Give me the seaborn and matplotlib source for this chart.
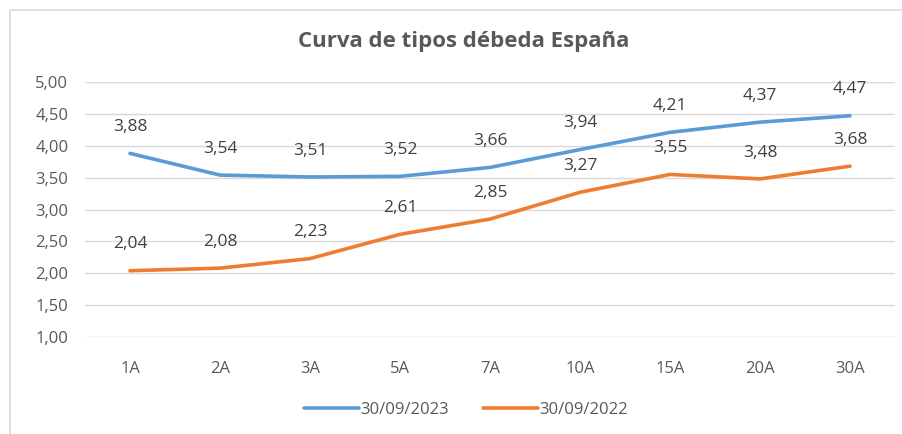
import seaborn as sns
import matplotlib.pyplot as plt
import pandas as pd
from matplotlib.patches import Rectangle

plazos = ["1A", "2A", "3A", "5A", "7A", "10A", "15A", "20A", "30A"]
tipos_2023 = [3.88, 3.54, 3.51, 3.52, 3.66, 3.94, 4.21, 4.37, 4.47]
tipos_2022 = [2.04, 2.08, 2.23, 2.61, 2.85, 3.27, 3.55, 3.48, 3.68]
series = ["30/09/2023", "30/09/2022"]
colores = {"30/09/2023": "#5B9BD5", "30/09/2022": "#ED7D31"}

df = pd.concat([
    pd.DataFrame({"Plazo": plazos, "Tipo": tipos_2023, "Fecha": series[0]}),
    pd.DataFrame({"Plazo": plazos, "Tipo": tipos_2022, "Fecha": series[1]}),
], ignore_index=True)

sns.set_style("white")
plt.rcParams['font.family'] = ['Open Sans', 'DejaVu Sans']
gris = "#595959"

fig = plt.figure(figsize=(9.03, 4.34), dpi=100)
ax = fig.add_axes([85 / 903, 1 - 337 / 434, 810 / 903, 255 / 434])

sns.lineplot(data=df, x="Plazo", y="Tipo", hue="Fecha", palette=colores,
             linewidth=2.6, sort=False, ax=ax)

# etiquetas de datos
for serie, valores in zip(series, [tipos_2023, tipos_2022]):
    for i, v in enumerate(valores):
        ax.annotate(f"{v:.2f}".replace(".", ","), (i, v), xytext=(0, 19),
                    textcoords="offset points", ha="center", va="center",
                    fontsize=12.5, color="#404040")

ax.set_xlim(-0.5, len(plazos) - 0.5)
ax.set_ylim(1, 5)
yt = [1 + 0.5 * k for k in range(9)]
ax.set_yticks(yt)
ax.set_yticklabels([f"{t:.2f}".replace(".", ",") for t in yt])
ax.tick_params(axis="both", length=0, labelsize=12, labelcolor=gris)
ax.tick_params(axis="x", pad=17)
ax.tick_params(axis="y", pad=12)
ax.grid(axis="y", color="#D9D9D9", linewidth=1)
ax.grid(axis="x", visible=False)
for s in ax.spines.values():
    s.set_visible(False)
ax.set_xlabel("")
ax.set_ylabel("")

ax.legend(loc="center", bbox_to_anchor=((466 - 85) / 810, -(410 - 337) / 255),
          ncol=2, frameon=False, fontsize=12, handlelength=3.3,
          handletextpad=0.1, columnspacing=2.0, labelcolor=gris)

fig.text(464 / 903, 1 - 42 / 434, "Curva de tipos débeda España", ha="center",
         va="center", fontsize=16, color=gris, fontweight="bold")

# marco del gráfico
fig.patches.append(Rectangle((10 / 903, -0.05), 1.0, 1 - 10 / 434 + 0.05,
                             transform=fig.transFigure, fill=False,
                             edgecolor="#D9D9D9", linewidth=1.2))

fig.savefig("out.png", dpi=100)
